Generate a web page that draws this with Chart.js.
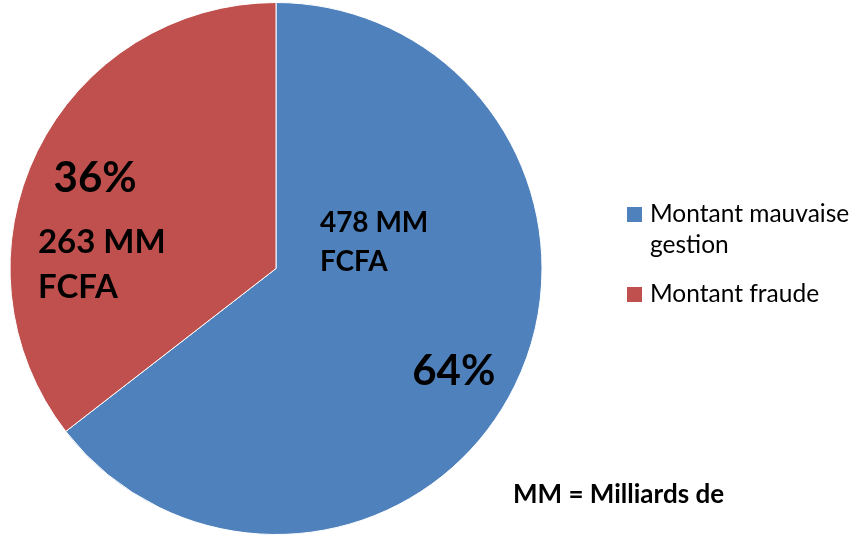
<!DOCTYPE html>
<html>
<head>
<meta charset="utf-8">
<script src="https://cdn.jsdelivr.net/npm/chart.js@4.4.1/dist/chart.umd.min.js"></script>
<style>
  html, body { margin: 0; padding: 0; background: #fff; }
  #wrap { position: relative; width: 856px; height: 537px; }
</style>
</head>
<body>
<div id="wrap"><canvas id="pieChart" width="856" height="537"></canvas></div>
<script>
// Data
const categories = ['Montant mauvaise gestion', 'Montant fraude'];
const amounts = [478, 263];            // milliards FCFA
const percents = ['64%', '36%'];
const amountLabels = [['478 MM', 'FCFA'], ['263 MM', 'FCFA']];
const colors = ['#4F81BD', '#C0504D'];
const footnote = 'MM = Milliards de';

const FONT = 'Lato, "Open Sans", sans-serif';

// labels drawn inside the slices, relative to pie centre / radius
const sliceText = {
  id: 'sliceText',
  afterDraw(chart) {
    const ctx = chart.ctx;
    const arcs = chart.getDatasetMeta(0).data;
    const cx = arcs[0].x, cy = arcs[0].y, r = arcs[0].outerRadius;
    ctx.save();
    ctx.fillStyle = '#000';
    ctx.textAlign = 'left';
    ctx.textBaseline = 'alphabetic';

    // blue slice
    ctx.font = 'bold 28px ' + FONT;
    ctx.fillText(amountLabels[0][0], cx + 0.165 * r, cy - 0.137 * r);
    ctx.fillText(amountLabels[0][1], cx + 0.165 * r, cy + 0.01 * r);
    ctx.font = 'bold 42px ' + FONT;
    ctx.fillText(percents[0], cx + 0.512 * r, cy + 0.437 * r);

    // red slice
    ctx.font = 'bold 42px ' + FONT;
    ctx.fillText(percents[1], cx - 0.836 * r, cy - 0.287 * r);
    ctx.font = 'bold 33px ' + FONT;
    ctx.fillText(amountLabels[1][0], cx - 0.895 * r, cy - 0.058 * r);
    ctx.fillText(amountLabels[1][1], cx - 0.895 * r, cy + 0.11 * r);
    ctx.restore();
  }
};

// legend on the right + footnote
const sideLegend = {
  id: 'sideLegend',
  afterDraw(chart) {
    const ctx = chart.ctx;
    const x0 = 627, maxW = 210;
    const rows = [207, 287];
    ctx.save();
    ctx.textBaseline = 'alphabetic';
    ctx.font = '24.5px ' + FONT;
    chart.data.labels.forEach((label, i) => {
      const y = rows[i];
      ctx.fillStyle = colors[i];
      ctx.fillRect(x0, y, 15, 15);
      // wrap label text
      const words = label.split(' ');
      let lines = [], cur = '';
      words.forEach(w => {
        const test = cur ? cur + ' ' + w : w;
        if (ctx.measureText(test).width > maxW && cur) { lines.push(cur); cur = w; }
        else cur = test;
      });
      lines.push(cur);
      ctx.fillStyle = '#000';
      lines.forEach((ln, j) => ctx.fillText(ln, 650, y + 15 + j * 31));
    });
    ctx.font = 'bold 26px ' + FONT;
    ctx.fillText(footnote, 513, 503);
    ctx.restore();
  }
};

new Chart(document.getElementById('pieChart'), {
  type: 'pie',
  data: {
    labels: categories,
    datasets: [{
      data: amounts,
      backgroundColor: colors,
      borderColor: '#ffffff',
      borderWidth: 1
    }]
  },
  options: {
    responsive: false,
    animation: false,
    layout: { padding: { left: 8, right: 312, top: 2, bottom: 2 } },
    plugins: {
      legend: { display: false },
      tooltip: { enabled: false }
    }
  },
  plugins: [sliceText, sideLegend]
});
</script>
</body>
</html>
